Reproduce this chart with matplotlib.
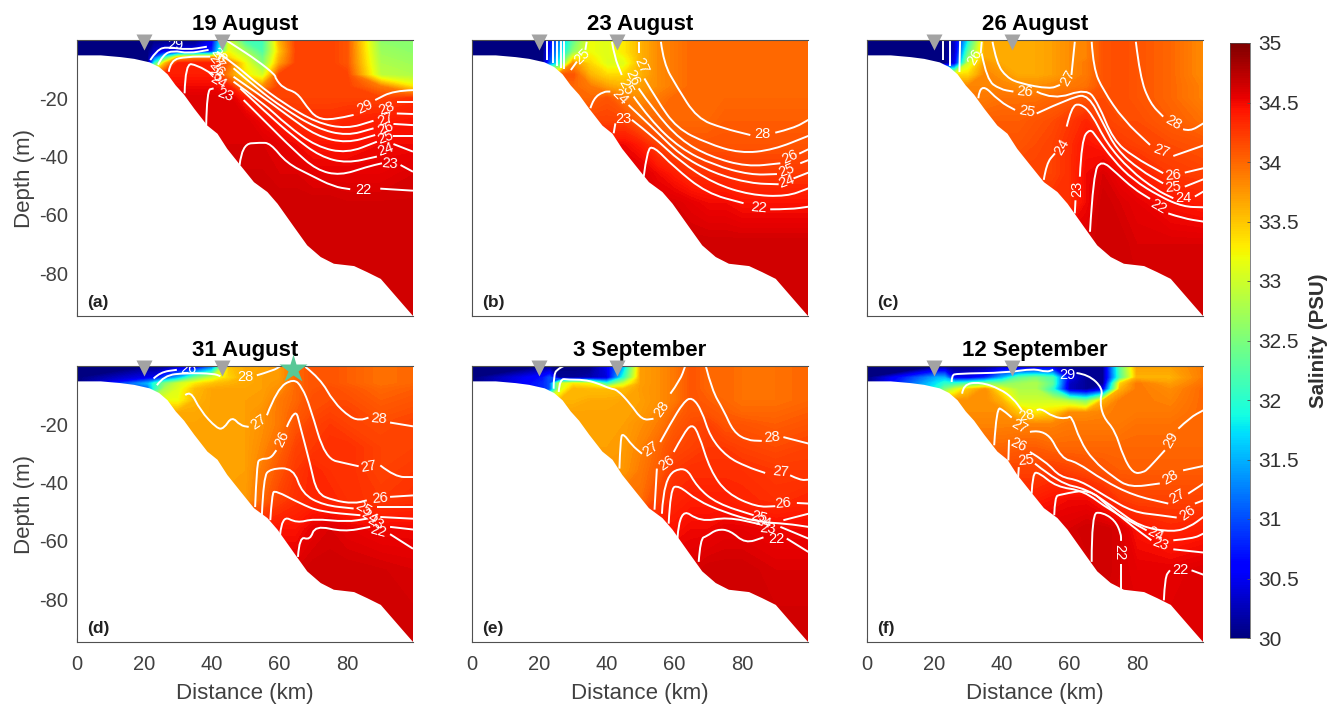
#!/usr/bin/python
import matplotlib
matplotlib.use('Agg')
import matplotlib.pyplot as plt
from matplotlib.path import Path
from matplotlib.patches import PathPatch
import numpy as np

plt.rcParams['font.family'] = ['Liberation Sans', 'DejaVu Sans']
plt.rcParams['axes.unicode_minus'] = False

###############################################################
## Section geometry
###############################################################
bottom_x = [0, 6.9, 12.8, 16.8, 21.4, 24.2, 26.7, 29.1, 31.6, 34.6, 38.5, 41.5, 44.4, 48.4, 52.3, 56.3,
            59.3, 64.2, 68.1, 72.1, 76, 82, 85.9, 89.9, 93.8, 96.8, 99.6]
bottom_d = [5.1, 5.1, 5.7, 6.3, 7.5, 9.1, 11.6, 15.4, 18.6, 23.4, 29.2, 32, 37.2, 43, 48.6, 52,
            56, 64, 70.3, 74.3, 76.6, 77.4, 79.5, 81.8, 87, 91, 94.7]

sal_x = [0, 21, 23, 26, 30, 35, 40, 45, 50, 55, 60, 65, 70, 75, 80, 90, 100]
sal_depth = [0, 4, 6, 8, 12, 16, 20, 28, 36, 46, 56, 70, 95]
stations = [20, 43]
star_x = 64

titles = ['19 August', '23 August', '26 August', '31 August', '3 September', '12 September']
letters = ['(a)', '(b)', '(c)', '(d)', '(e)', '(f)']
cbar_ticks = [30, 30.5, 31, 31.5, 32, 32.5, 33, 33.5, 34, 34.5, 35]
cbar_labels = ['30', '30.5', '31', '31.5', '32', '32.5', '33', '33.5', '34', '34.5', '35']

###############################################################
## Salinity, one row per depth
###############################################################
sal_a = [
    [30, 30, 30, 30, 30, 30, 30.5, 33, 32.1, 32.1, 33.6, 34.2, 34.2, 34.2, 34.1, 32.6, 32.6],
    [30, 30, 30.3, 30.5, 30.5, 30.5, 30.8, 33.2, 32.7, 32.2, 33.5, 34.2, 34.2, 34.2, 34.1, 32.7, 32.6],
    [30, 30, 31, 32, 33.5, 33.8, 33.8, 33.4, 33, 32.4, 33.6, 34.2, 34.2, 34.2, 34.1, 32.75, 32.65],
    [30, 30, 32, 33.5, 34.4, 34.4, 34.4, 34, 33.2, 32.5, 33.7, 34.2, 34.2, 34.2, 34.1, 32.8, 32.7],
    [34, 34, 34, 34.4, 34.4, 34.4, 34.4, 33.8, 33.3, 33, 34.2, 34.2, 34.2, 34.2, 34.2, 32.9, 32.8],
    [34.5, 34.5, 34.5, 34.5, 34.5, 34.5, 34.5, 34.4, 33.8, 33.8, 34.2, 34.2, 34.2, 34.2, 34.2, 33.9, 33.3],
    [34.6, 34.6, 34.6, 34.6, 34.6, 34.6, 34.6, 34.6, 34.4, 34.2, 34.2, 34.2, 34.2, 34.2, 34.2, 34.2, 34.3],
    [34.6, 34.6, 34.6, 34.6, 34.6, 34.6, 34.6, 34.6, 34.6, 34.5, 34.4, 34.3, 34.3, 34.3, 34.35, 34.4, 34.45],
    [34.6, 34.6, 34.6, 34.6, 34.6, 34.6, 34.6, 34.6, 34.6, 34.6, 34.55, 34.5, 34.45, 34.45, 34.45, 34.5, 34.5],
    [34.63, 34.63, 34.63, 34.63, 34.63, 34.63, 34.63, 34.63, 34.63, 34.63, 34.6, 34.6, 34.55, 34.55, 34.55, 34.55, 34.6],
    [34.65, 34.65, 34.65, 34.65, 34.65, 34.65, 34.65, 34.65, 34.65, 34.65, 34.65, 34.65, 34.65, 34.65, 34.63, 34.63, 34.63],
    [34.65, 34.65, 34.65, 34.65, 34.65, 34.65, 34.65, 34.65, 34.65, 34.65, 34.65, 34.65, 34.65, 34.65, 34.65, 34.65, 34.65],
    [34.65, 34.65, 34.65, 34.65, 34.65, 34.65, 34.65, 34.65, 34.65, 34.65, 34.65, 34.65, 34.65, 34.65, 34.65, 34.65, 34.65],
]
sal_b = [
    [30, 30, 30.5, 31.3, 32.3, 33.2, 33.1, 33.3, 33.6, 33.8, 33.9, 34, 34, 34, 34, 34, 34],
    [30, 30, 30.7, 31.5, 32.6, 33.2, 33.1, 33.3, 33.6, 33.8, 33.9, 34, 34, 34, 34, 34, 34],
    [30, 30, 30.8, 31.7, 33.2, 33.3, 33.1, 33.2, 33.6, 33.8, 33.9, 34, 34, 34, 34, 34, 34],
    [30, 30, 31, 32, 33.8, 33.4, 33.1, 33.1, 33.6, 33.8, 33.9, 34, 34, 34, 34, 34, 34],
    [34.1, 34.1, 34.1, 34.1, 34.1, 33.6, 33.4, 33.4, 33.6, 33.8, 33.9, 34, 34, 34, 34, 34, 34],
    [34, 34, 34, 34, 34, 33.9, 33.7, 33.6, 33.7, 33.8, 33.9, 34, 34, 34, 34, 34, 34],
    [34, 34, 34, 34, 34, 34, 34.1, 33.9, 33.8, 33.9, 34, 34, 34, 34, 34, 34, 34],
    [34.2, 34.2, 34.2, 34.2, 34.2, 34.2, 34.2, 34.2, 34, 34, 34, 34, 34, 34.05, 34.05, 34.05, 34.05],
    [34.5, 34.5, 34.5, 34.5, 34.5, 34.5, 34.5, 34.5, 34.4, 34.2, 34.1, 34.1, 34.1, 34.1, 34.1, 34.1, 34.1],
    [34.6, 34.6, 34.6, 34.6, 34.6, 34.6, 34.6, 34.6, 34.6, 34.5, 34.4, 34.3, 34.3, 34.3, 34.25, 34.25, 34.25],
    [34.6, 34.6, 34.6, 34.6, 34.6, 34.6, 34.6, 34.6, 34.6, 34.6, 34.6, 34.55, 34.5, 34.5, 34.45, 34.45, 34.45],
    [34.65, 34.65, 34.65, 34.65, 34.65, 34.65, 34.65, 34.65, 34.65, 34.65, 34.65, 34.65, 34.65, 34.65, 34.65, 34.65, 34.65],
    [34.65, 34.65, 34.65, 34.65, 34.65, 34.65, 34.65, 34.65, 34.65, 34.65, 34.65, 34.65, 34.65, 34.65, 34.65, 34.65, 34.65],
]
sal_c = [
    [30, 30, 30, 30.3, 31.8, 33.65, 33.65, 33.65, 33.65, 33.7, 33.8, 33.85, 34.1, 34.15, 34.1, 34, 33.8],
    [30, 30, 30, 30.3, 32.3, 33.65, 33.65, 33.65, 33.65, 33.7, 33.8, 33.85, 34.1, 34.15, 34.1, 34, 33.8],
    [30, 30, 30, 30.4, 32.6, 33.65, 33.65, 33.65, 33.65, 33.7, 33.8, 33.85, 34.1, 34.15, 34.1, 34, 33.8],
    [30, 30, 30, 30.5, 33, 33.75, 33.65, 33.65, 33.65, 33.7, 33.8, 33.9, 34.1, 34.15, 34.1, 34, 33.8],
    [33.4, 33.4, 33.4, 33.4, 33.4, 33.85, 33.75, 33.65, 33.65, 33.7, 33.8, 33.9, 34.1, 34.15, 34.1, 34, 33.8],
    [33.85, 33.85, 33.85, 33.85, 33.85, 33.85, 33.85, 33.8, 33.8, 33.85, 33.9, 33.95, 34.1, 34.15, 34.1, 34, 33.85],
    [33.9, 33.9, 33.9, 33.9, 33.9, 33.9, 33.95, 33.95, 33.95, 34, 34.05, 34.1, 34.15, 34.15, 34.1, 34, 33.85],
    [34.05, 34.05, 34.05, 34.05, 34.05, 34.05, 34.05, 34.05, 34.1, 34.15, 34.25, 34.35, 34.2, 34.15, 34.15, 34.05, 33.95],
    [34.1, 34.1, 34.1, 34.1, 34.1, 34.1, 34.1, 34.1, 34.15, 34.2, 34.3, 34.45, 34.4, 34.25, 34.2, 34.15, 34.1],
    [34.2, 34.2, 34.2, 34.2, 34.2, 34.2, 34.2, 34.2, 34.2, 34.2, 34.3, 34.5, 34.6, 34.5, 34.4, 34.25, 34.2],
    [34.3, 34.3, 34.3, 34.3, 34.3, 34.3, 34.3, 34.3, 34.3, 34.3, 34.3, 34.5, 34.65, 34.6, 34.55, 34.45, 34.4],
    [34.6, 34.6, 34.6, 34.6, 34.6, 34.6, 34.6, 34.6, 34.6, 34.6, 34.6, 34.6, 34.65, 34.65, 34.6, 34.6, 34.6],
    [34.65, 34.65, 34.65, 34.65, 34.65, 34.65, 34.65, 34.65, 34.65, 34.65, 34.65, 34.65, 34.65, 34.65, 34.65, 34.65, 34.65],
]
sal_d = [
    [30, 30, 30, 30, 30.2, 30.2, 31, 33.5, 33.65, 33.68, 33.72, 34, 34.1, 34.1, 34.05, 33.95, 34],
    [30, 30.5, 30.5, 31, 31.5, 32.5, 33, 33.4, 33.65, 33.7, 33.72, 34, 34.1, 34.1, 34.05, 33.95, 34],
    [30, 31.5, 32, 32.5, 33, 33.3, 33.5, 33.6, 33.65, 33.7, 33.75, 34, 34.1, 34.1, 34.05, 33.95, 34],
    [30, 31, 32, 32.8, 33.1, 33.55, 33.68, 33.68, 33.68, 33.7, 33.8, 34, 34.1, 34.15, 34.1, 34, 34.05],
    [33.2, 33.2, 33.2, 33.2, 33.2, 33.6, 33.68, 33.68, 33.7, 33.72, 33.9, 34, 34.15, 34.15, 34.15, 34.05, 34.1],
    [33.65, 33.65, 33.65, 33.65, 33.65, 33.65, 33.68, 33.68, 33.7, 33.78, 33.9, 34.05, 34.15, 34.2, 34.2, 34.1, 34.15],
    [33.68, 33.68, 33.68, 33.68, 33.68, 33.68, 33.68, 33.68, 33.7, 33.78, 33.9, 34.1, 34.2, 34.25, 34.2, 34.15, 34.2],
    [33.68, 33.68, 33.68, 33.68, 33.68, 33.68, 33.68, 33.68, 33.7, 33.82, 34, 34.2, 34.25, 34.3, 34.3, 34.2, 34.2],
    [33.68, 33.68, 33.68, 33.68, 33.68, 33.68, 33.68, 33.68, 33.7, 33.9, 34.1, 34.25, 34.35, 34.3, 34.3, 34.2, 34.25],
    [33.72, 33.72, 33.72, 33.72, 33.72, 33.72, 33.72, 33.72, 33.72, 34, 34.2, 34.3, 34.35, 34.35, 34.3, 34.25, 34.3],
    [34.45, 34.45, 34.45, 34.45, 34.45, 34.45, 34.45, 34.45, 34.45, 34.45, 34.45, 34.45, 34.55, 34.6, 34.55, 34.5, 34.5],
    [34.6, 34.6, 34.6, 34.6, 34.6, 34.6, 34.6, 34.6, 34.6, 34.6, 34.6, 34.6, 34.65, 34.65, 34.65, 34.63, 34.6],
    [34.65, 34.65, 34.65, 34.65, 34.65, 34.65, 34.65, 34.65, 34.65, 34.65, 34.65, 34.65, 34.65, 34.65, 34.65, 34.65, 34.65],
]
sal_e = [
    [30, 30, 30, 30, 30, 30, 30.5, 31.5, 33.7, 33.78, 33.9, 34.1, 34, 34, 33.95, 33.95, 34],
    [30, 30.7, 31, 30.1, 30.1, 30.2, 30.4, 32, 33.7, 33.78, 33.9, 34.1, 34, 34, 33.95, 33.95, 34],
    [30, 30.8, 31, 33, 33.3, 33.2, 32, 33, 33.7, 33.78, 33.9, 34.1, 34, 34, 33.95, 33.95, 34],
    [30, 30.8, 31, 33, 33.6, 33.55, 33.55, 33.55, 33.72, 33.78, 33.9, 34.1, 34, 34, 33.95, 33.95, 34],
    [33.6, 33.6, 33.6, 33.6, 33.6, 33.65, 33.65, 33.68, 33.7, 33.78, 33.9, 34.1, 34.05, 34, 33.95, 33.95, 34],
    [33.68, 33.68, 33.68, 33.68, 33.68, 33.68, 33.68, 33.68, 33.72, 33.82, 34, 34.1, 34.1, 34.05, 34, 34, 34.05],
    [33.68, 33.68, 33.68, 33.68, 33.68, 33.68, 33.68, 33.7, 33.78, 33.88, 34.05, 34.15, 34.2, 34.1, 34.1, 34.05, 34.1],
    [33.7, 33.7, 33.7, 33.7, 33.7, 33.7, 33.7, 33.72, 33.85, 34, 34.15, 34.2, 34.25, 34.25, 34.2, 34.15, 34.2],
    [33.75, 33.75, 33.75, 33.75, 33.75, 33.75, 33.75, 33.75, 33.9, 34.05, 34.25, 34.3, 34.3, 34.3, 34.3, 34.25, 34.25],
    [33.95, 33.95, 33.95, 33.95, 33.95, 33.95, 33.95, 33.95, 33.95, 34.2, 34.35, 34.4, 34.4, 34.4, 34.35, 34.3, 34.35],
    [34.45, 34.45, 34.45, 34.45, 34.45, 34.45, 34.45, 34.45, 34.45, 34.45, 34.45, 34.5, 34.5, 34.55, 34.55, 34.5, 34.5],
    [34.6, 34.6, 34.6, 34.6, 34.6, 34.6, 34.6, 34.6, 34.6, 34.6, 34.6, 34.6, 34.65, 34.65, 34.65, 34.6, 34.6],
    [34.65, 34.65, 34.65, 34.65, 34.65, 34.65, 34.65, 34.65, 34.65, 34.65, 34.65, 34.65, 34.65, 34.65, 34.65, 34.65, 34.65],
]
sal_f = [
    [30, 30, 30, 30, 30, 30, 30.2, 30.1, 30.1, 30.2, 30.1, 30.1, 30.1, 32.3, 33.7, 33.7, 33.9],
    [30, 31.5, 31.5, 30.5, 30.5, 30.8, 31.5, 32.3, 32.5, 32.2, 30.5, 30.1, 30.1, 32.2, 33.6, 33.6, 33.9],
    [30, 31.8, 32, 32, 32.2, 32.5, 32.5, 32.7, 32.8, 32.3, 30.3, 30.1, 30.1, 33.4, 33.9, 33.7, 33.95],
    [30, 32, 32.5, 33, 33.5, 33.8, 33.2, 32.8, 32.8, 32, 30.3, 30.1, 30.5, 33.6, 33.9, 33.8, 34],
    [33.8, 33.8, 33.8, 33.8, 33.8, 33.8, 33.6, 33, 33, 33, 32.8, 32.5, 33.6, 33.9, 33.9, 33.85, 34],
    [33.8, 33.8, 33.8, 33.8, 33.8, 33.8, 33.8, 33.5, 33.3, 33.4, 33.8, 33.8, 33.85, 33.9, 33.9, 33.9, 34],
    [33.85, 33.85, 33.85, 33.85, 33.85, 33.85, 33.85, 33.85, 33.85, 33.85, 33.9, 33.9, 33.9, 33.9, 33.95, 33.95, 34],
    [34, 34, 34, 34, 34, 34, 34, 34.05, 34.05, 34, 34, 34, 34, 34, 34, 34, 34],
    [34.2, 34.2, 34.2, 34.2, 34.2, 34.2, 34.2, 34.2, 34.2, 34.25, 34.2, 34.15, 34.1, 34.05, 34.05, 34.05, 34.05],
    [34.4, 34.4, 34.4, 34.4, 34.4, 34.4, 34.4, 34.4, 34.4, 34.45, 34.5, 34.5, 34.4, 34.25, 34.2, 34.2, 34.2],
    [34.6, 34.6, 34.6, 34.6, 34.6, 34.6, 34.6, 34.6, 34.6, 34.6, 34.6, 34.65, 34.65, 34.6, 34.45, 34.35, 34.4],
    [34.6, 34.6, 34.6, 34.6, 34.6, 34.6, 34.6, 34.6, 34.6, 34.6, 34.6, 34.6, 34.65, 34.6, 34.55, 34.55, 34.6],
    [34.6, 34.6, 34.6, 34.6, 34.6, 34.6, 34.6, 34.6, 34.6, 34.6, 34.6, 34.6, 34.6, 34.6, 34.6, 34.6, 34.6],
]

###############################################################
## Isotherms as (distance, depth) runs, and their labels
###############################################################
iso_a = [
    ([99.6, 93.8, 88.4], [17.2, 17.4, 20.6]),
    ([82, 76, 71.1, 68.1, 65.2, 61.2, 58.8, 58.8, 53.3, 46.4, 44.4], [25.7, 27.4, 26.9, 22.9, 18, 16.6, 13.2, 12, 6.9, 1.7, 0.2]),
    ([99.6, 94.8], [21.2, 21.2]),
    ([41.5, 46.4, 53.3, 61.2, 71, 80, 87.9], [4, 8, 14.9, 21.7, 28.4, 30.5, 27.7]),
    ([99.6, 94.8], [25.4, 25.2]),
    ([46.4, 53.3, 61.2, 71, 80, 87.9], [9.7, 16.6, 23.4, 30.3, 32.9, 30.3]),
    ([99.6, 93.8], [29.2, 28.8]),
    ([46.4, 54.3, 62.2, 71, 80, 88.4], [12.6, 18.9, 25.7, 33, 35.4, 32.6]),
    ([99.6, 93.8], [32.9, 32.9]),
    ([46.4, 55.3, 62.2, 71, 80, 88.9], [14.3, 21.7, 29.2, 36.6, 38.9, 34.9]),
    ([99.6, 93.8], [38.3, 35.7]),
    ([48.4, 56.3, 64.2, 72.1, 80, 88.9], [16.6, 25.2, 33.2, 40, 42.3, 40]),
    ([99.6, 95.9], [45.2, 42.9]),
    ([49.4, 56.3, 64.2, 71, 78, 86, 90.4], [20.6, 28.6, 37.7, 44.6, 46.5, 43.5, 42.3]),
    ([38.3, 38.5, 40.5], [29.2, 17.2, 16.6]),
    ([99.6, 89.9], [51.7, 51]),
    ([48.2, 48.9, 54.3, 57.3, 62.2, 69.1, 76, 81], [42.9, 35.7, 35.2, 35.4, 42.3, 46.3, 50.3, 51.2]),
    ([31.9, 32.1, 35.6, 40.5], [18.3, 8, 8.6, 12]),
    ([21.7, 23.7, 26.7, 32.6, 38.5], [6.9, 3.4, 2.3, 3.4, 2.3]),
    ([24, 25.5, 28.5, 33, 39], [8.5, 5, 3.6, 4.6, 3.4]),
    ([27.2, 27.7, 32.6, 39.5], [10.9, 6.9, 5.7, 5.7]),
]
lab_a = [
    ('29', 85.4, 23.1, 25), ('28', 91.7, 23.4, 20), ('27', 91.4, 27.2, 20), ('26', 91.4, 30.3, 20),
    ('25', 91.4, 33.4, 20), ('24', 91.4, 37.7, 20), ('23', 92.8, 42.3, -5), ('22', 84.9, 51.5, 0),
    ('28', 42, 5.2, -50), ('27', 41.5, 7.4, -50), ('26', 41.5, 9.7, -50), ('25', 41, 12, -45),
    ('24', 42, 14.3, -30), ('23', 44, 18.9, -20), ('29', 29.1, 1.7, 0),
]

iso_b = [
    ([22.2, 22.2], [0, 7]), ([23.9, 23.9], [0, 8]), ([25.2, 25.2], [0, 9]), ([26.4, 26.4], [0, 9.5]), ([27.4, 27.4], [0, 10]),
    ([34, 33.6], [0.6, 3.4]), ([31.1, 29.3], [7.4, 10.3]),
    ([41.5, 42.2, 44.4], [0.6, 5.7, 12]),
    ([49.6, 49.6], [0.6, 4.6]),
    ([51.1, 54.8, 60.7, 69.6, 79.5, 89.3, 99.7], [13.2, 20.6, 30.3, 35.4, 38.9, 37.7, 32.9]),
    ([56, 56.8, 60.7, 66.7, 74.5, 82.5], [0.6, 8, 16, 26.9, 30.3, 32.6]),
    ([89.9, 95.3, 99.7], [31.8, 30.3, 27.4]),
    ([49.4, 53.8, 61.7, 70.6, 81.5, 91.4], [16.6, 24, 34.3, 40, 43.5, 42.3]),
    ([97, 99.7], [39, 37.5]),
    ([47.9, 52.8, 61.7, 71.6, 82.5, 90.4], [19.4, 27.4, 37.2, 42.9, 46.3, 46]),
    ([97.3, 99.7], [42.3, 41.2]),
    ([46.4, 53.8, 61.7, 71.6, 82.5, 90.9], [22.3, 30.3, 39.5, 45.7, 49.2, 49.5]),
    ([95.3, 99.7], [47.5, 45.5]),
    ([42, 42.5], [32, 28.6]),
    ([47.4, 53.8, 61.7, 71.6, 82.5, 93.3, 99.7], [27.4, 33.2, 41.7, 49.2, 53.2, 53.7, 50.9]),
    ([50.9, 51.9, 53.8, 59.8, 69.6, 80.5], [46.9, 37.7, 36.4, 43.5, 52.6, 56]),
    ([88.4, 94.3, 99.7], [58.1, 58.1, 57.2]),
    ([35.1, 36, 39, 41], [23.4, 20, 17.7, 17.7]),
]
lab_b = [
    ('25', 32.6, 5.7, 45), ('27', 50.1, 8.9, -65), ('26', 47.4, 12.8, -65), ('25', 45.7, 16.2, -60),
    ('24', 43.8, 19.4, -45), ('23', 45, 27.2, 0), ('28', 86.2, 32.4, 0), ('26', 94.3, 40, 25),
    ('25', 93.3, 44.6, 20), ('24', 93.3, 48.6, 20), ('22', 85.1, 57.5, -5),
]

iso_c = [
    ([22.6, 22.6], [0, 7]), ([24.6, 24.6], [0, 9]), ([27.6, 27.4], [0, 11]),
    ([34, 33.7], [0.6, 4.6]),
    ([37.2, 38.4, 41.4, 45.3, 54.2, 57.2], [0.6, 8, 12.8, 14.9, 16.8, 15.4]),
    ([60.6, 61.6], [12, 0.6]),
    ([34, 35.5, 39.4, 43.4], [4.6, 13.7, 16.9, 17.7]),
    ([50.3, 55.2, 65.1, 68.5, 73, 78.9, 87.8], [17.7, 20.6, 16.6, 21.7, 34.3, 40, 45.7]),
    ([94.2, 99.7], [45.5, 44]),
    ([33, 33.5, 39.4, 43.9], [20, 14.3, 21.2, 24]),
    ([50.3, 61.1, 65.6, 70, 74, 80.9, 87.8], [25.2, 19.4, 18.9, 28.6, 37.7, 44.6, 49.2]),
    ([94.2, 99.7], [50.3, 47.8]),
    ([52.4, 53.2, 55.7], [48, 42.3, 38.9]),
    ([59.2, 60.6, 63.1, 66.6, 71, 77.9, 85.8, 90.8], [29.7, 22.9, 21.7, 25.2, 35.4, 44.6, 51.5, 54.3]),
    ([97.2, 99.7], [53.7, 52]),
    ([61.6, 61.8], [59.5, 55]),
    ([63.1, 63.6, 66.1, 68, 73, 78.9, 86.8, 93.7, 99.7], [46.9, 34.3, 30.3, 33.2, 41.2, 48, 53.7, 57.2, 57.4]),
    ([66.1, 67.1, 69.5, 74, 78.9, 83.9], [65.8, 45.7, 41.2, 45.7, 50.9, 54.5]),
    ([89.3, 93.7, 99.7], [59.5, 61.2, 62.3]),
    ([66.6, 67.1, 70, 76, 83.9], [0.6, 9.7, 17.2, 27.4, 36]),
    ([90.8, 99.7], [39.8, 36.2]),
    ([79.7, 80.9, 83.9, 87.8], [0.6, 12.6, 21.7, 26.3]),
    ([93.7, 95.7, 99.7], [30.6, 31.4, 28.6]),
]
lab_c = [
    ('26', 32, 5.7, 60), ('27', 59.4, 12.9, 60), ('26', 46.8, 17.7, -5), ('25', 47.3, 24.6, -10),
    ('24', 57.7, 36.6, 60), ('23', 62.3, 51.2, 90), ('28', 90.8, 28.4, -30), ('27', 87.3, 38, -20),
    ('26', 90.8, 46.3, 5), ('25', 90.8, 50.7, 5), ('24', 93.7, 54.3, 0), ('22', 86.3, 57, -30),
]

iso_d = [
    ([22.7, 24.7, 29.6], [4.3, 2.1, 1.3]),
    ([23.7, 25.7, 32.6, 40.5, 42.5], [6.6, 3.2, 2.4, 2.6, 3.5]),
    ([53.3, 58.3, 60.2], [3.2, 1.5, 0.1]),
    ([67.7, 72.1, 76, 81, 84, 86.4], [0.3, 4.3, 12.3, 17.7, 18.6, 17.7]),
    ([92.8, 99.6], [19.4, 20.7]),
    ([32.1, 33.6, 36.5, 41.5, 43.5, 45.9, 48.4, 50.9], [10, 8.3, 15.2, 21.5, 21.5, 17.3, 20.4, 20.9]),
    ([56.3, 59.3, 64.2, 66.7, 69.1, 73.6, 80, 83.5], [16.9, 7.8, 4.3, 7.2, 14, 31.8, 33.5, 34.4]),
    ([89.9, 94.3, 99.6], [34.1, 38.1, 38.1]),
    ([52.8, 53.3, 54.3, 57.3, 59.1], [48.4, 33.5, 31.8, 31.8, 28.9]),
    ([62.2, 64.7, 66.2, 69.1, 71.1, 76, 82, 85.9], [20.9, 14, 20.9, 33.5, 43.8, 46.1, 47.2, 46.1]),
    ([92.8, 99.6], [44.9, 44.4]),
    ([54.8, 55.3, 57.3, 64.2, 66.7, 73.1, 82], [51.2, 38.1, 35.2, 35, 43.8, 47.8, 48.9]),
    ([88.9, 99.6], [48.4, 48.4]),
    ([57.3, 57.8, 58.8, 66.2, 72.1, 84], [52.9, 43.8, 42.7, 47.2, 50, 51.2]),
    ([89.9, 99.6], [51.8, 52.4]),
    ([60.2, 60.7, 65.2, 70.1, 80, 85.9], [58, 51.2, 53.9, 52.4, 53.5, 52.4]),
    ([92.8, 99.6], [55.2, 56.1]),
    ([65.5, 65.9, 69.1, 70.6, 79, 86.9], [65.5, 58.4, 59.8, 54.7, 56.9, 55.2]),
    ([92.8, 99.6], [57.7, 62.7]),
]
lab_d = [
    ('28', 49.9, 3.8, 0), ('27', 53.8, 19.2, 35), ('26', 60.7, 24.9, 65), ('28', 89.4, 18.1, -5),
    ('27', 86.4, 34.6, 10), ('26', 89.9, 45.3, 5), ('25', 84.9, 48.9, -30), ('24', 86.7, 51.6, -30),
    ('23', 88.4, 53.9, -30), ('22', 89.4, 56.7, -15), ('26', 33.1, 0.9, 0),
]

iso_e = [
    ([24.2, 24.2, 25.7, 27.2], [7.8, 2.6, 0.9, 0]),
    ([25.7, 26, 28.6, 33.1, 37, 41, 43, 46.9, 50.4, 53.8], [8.9, 4.3, 4.7, 4.7, 5.8, 7.8, 8.1, 12.9, 18.6, 18.1]),
    ([58.8, 61.7, 63.2], [9.5, 4.9, 0]),
    ([69.3, 71.1, 74.6, 77.5, 81.5, 85.9], [0, 8.3, 15.2, 22.6, 25.5, 25.7]),
    ([92.3, 99.7], [24.4, 26.6]),
    ([43.7, 44, 44.9, 47.4, 50.4], [35.2, 24.4, 23.2, 27.2, 30.1]),
    ([55.8, 58.8, 62.7, 65.2, 68.1, 70.6, 75.6, 81.5, 86.9], [26.1, 19.8, 12.4, 10.6, 15.2, 24.4, 31.2, 34.6, 36.7]),
    ([94.3, 97.3, 99.7], [37.5, 39.2, 39]),
    ([54.1, 54.8], [49.3, 35.2]),
    ([59.8, 62.7, 65.2, 67.2, 70.6, 75.6, 84.4, 89.9], [29.5, 23.2, 19.8, 23.2, 35.8, 43.8, 48.4, 48.1]),
    ([96.3, 99.7], [47, 47.2]),
    ([56.3, 56.8, 63.2, 66.7, 72.6, 83.5], [50.7, 38.1, 34.1, 41.5, 47.2, 51.2]),
    ([92.3, 99.7], [52.9, 50.7]),
    ([58.3, 58.8, 61.2, 66.7, 74.6, 84.4, 93.3, 99.7], [54.1, 42.1, 40.9, 46.1, 50.1, 53.5, 54.1, 55.2]),
    ([60.9, 61.5, 67.7, 75.6, 85.4], [59.2, 48.4, 53.5, 51.8, 54.3]),
    ([91.4, 99.7], [55.2, 59.2]),
    ([67.2, 67.7, 69.6, 72.6, 76.5, 81, 86.4], [67.2, 59.2, 58.4, 56, 56.4, 60.9, 58.8]),
    ([93.3, 99.7], [59.2, 63.8]),
]
lab_e = [
    ('28', 56.3, 14.6, 55), ('27', 52.8, 28.4, 35), ('26', 57.8, 33.2, 35), ('28', 88.9, 24.6, 5),
    ('27', 91.4, 36.4, -5), ('26', 92.3, 47.2, 5), ('25', 85.2, 51.8, -15), ('24', 86.4, 53.7, -15),
    ('23', 87.7, 56, -5), ('22', 90.1, 59.5, 0),
]

iso_f = [
    ([25.1, 25.1, 26.6, 41.4, 49.3, 53.2, 55.2], [5.5, 3.2, 2.6, 2.3, 0.9, 2.1, 1.3]),
    ([62.1, 65.6, 70, 69, 70, 73.5, 76, 78.9, 81.9, 83.4, 88.3], [2.4, 2.9, 7.8, 11.8, 17.5, 22.1, 31.2, 36.9, 36.5, 35.2, 28.9]),
    ([92.3, 95.7, 99.7], [21.5, 17.7, 15.2]),
    ([28.2, 28.5, 33.5, 39.4, 43.4, 45.9], [9.5, 6.3, 5.5, 7.8, 11.2, 15.2]),
    ([50.3, 51.3, 55.2, 59.2, 60.6, 63.1, 67, 73, 77.9, 86.8], [15.2, 14.3, 17.5, 18.1, 16.9, 25.5, 32.4, 38.1, 41.7, 40.3]),
    ([93.7, 99.7], [35.8, 34.3]),
    ([37.7, 38.4, 40.4, 42.9], [27.2, 14, 15.2, 17.7]),
    ([48.3, 53.2, 57.7, 62.1, 70, 78.9, 89.3], [22.6, 21.5, 31.8, 32.9, 39.2, 44.4, 47.2]),
    ([95.2, 99.7], [43.8, 40.4]),
    ([41.9, 42.1], [32.4, 25.3]),
    ([48.3, 53.2, 57.2, 63.1, 71, 78.9, 86.8, 91.8], [29.5, 32.9, 38.1, 39.2, 44.9, 50.1, 51.2, 52]),
    ([97.2, 99.7], [47.2, 46.1]),
    ([44.8, 45], [38.1, 34.7]),
    ([49.8, 57.2, 65, 73, 80.9, 90.8, 95.7, 99.7], [33.5, 40.4, 42.1, 48.4, 55.2, 57, 55.2, 51.8]),
    ([48.8, 49.1, 50.8, 56.2, 64.1, 72, 82.9], [43.8, 36.9, 36.4, 41.5, 42.7, 49.5, 56.4]),
    ([90.8, 96.7, 99.7], [59.8, 59.2, 57.5]),
    ([55.5, 55.7, 57.2, 66.1, 71, 78.9, 84.3], [51.2, 44.9, 44.1, 42.3, 47.7, 55.2, 59.8]),
    ([90.8, 99.7], [62.9, 64]),
    ([66.6, 66.6, 69.5, 73.5, 75.3, 75.3], [67.2, 50.7, 50.1, 52.9, 57.5, 60]),
    ([75.3, 75.3], [67.8, 76.4]),
    ([88, 88.3, 89.8], [80.4, 72.4, 70.1]),
    ([96.2, 99.7], [70.1, 71.6]),
]
lab_f = [
    ('29', 59.5, 3.2, 0), ('28', 47.3, 16.9, 10), ('27', 45, 20.7, -30), ('26', 44.8, 27.2, -25),
    ('25', 47, 32.4, 5), ('24', 85.6, 57.7, -25), ('23', 86.8, 61.2, -20), ('22', 74.8, 63.8, -90),
    ('29', 90, 25.5, 60), ('28', 89.8, 38.1, 30), ('27', 91.9, 44.9, 30), ('26', 94.9, 50.3, 35),
    ('22', 92.9, 69.9, 0),
]

all_sal = [sal_a, sal_b, sal_c, sal_d, sal_e, sal_f]
all_iso = [iso_a, iso_b, iso_c, iso_d, iso_e, iso_f]
all_lab = [lab_a, lab_b, lab_c, lab_d, lab_e, lab_f]


def rounded_path(xs, ys):
    # corners become quadratic curves, so the runs do not look faceted
    pts = list(zip(xs, ys))
    verts = [pts[0]]
    codes = [Path.MOVETO]
    for k in range(1, len(pts)-1):
        mid = ((pts[k][0]+pts[k+1][0])/2.0, (pts[k][1]+pts[k+1][1])/2.0)
        verts += [pts[k], mid]
        codes += [Path.CURVE3, Path.CURVE3]
    verts.append(pts[-1])
    codes.append(Path.LINETO)
    return Path(verts, codes)


###############################################################
## Figure, laid out in pixels
###############################################################
W, H = 1329.0, 705.0
left_px = [77, 472, 867]
top_px = [40, 366]
ax_w, ax_h = 336.0, 276.0
grey = '#505050'

fig = plt.figure(figsize=(W/100, H/100), dpi=100)
levels = np.linspace(30, 35, 201)

for i in range(6):
    col = i % 3
    row = i // 3
    ax = fig.add_axes([left_px[col]/W, 1-(top_px[row]+ax_h)/H, ax_w/W, ax_h/H])

    ax.contourf(sal_x, -np.array(sal_depth), np.array(all_sal[i]), levels=levels, cmap='jet', extend='both')
    ax.fill_between(bottom_x, -np.array(bottom_d), -100, color='white', lw=0, zorder=2)

    for xs, ds in all_iso[i]:
        ax.add_patch(PathPatch(rounded_path(xs, -np.array(ds)), fc='none', ec='white', lw=1.4, zorder=3))
    for txt, x, d, rot in all_lab[i]:
        ax.text(x, -d, txt, color='white', fontsize=10.5, rotation=rot, ha='center', va='center',
                rotation_mode='anchor', zorder=4)

    ax.plot(stations, [-0.7, -0.7], 'v', color='#a3a3a3', ms=11.5, mec='none', clip_on=False, zorder=6)
    if i == 3:
        ax.plot([star_x], [-1], '*', color='#58c896', ms=21.5, mec='none', clip_on=False, zorder=7)

    ax.text(3, -90, letters[i], fontsize=12.5, fontweight='bold', color='#222222', va='center', zorder=5)
    ax.set_title(titles[i], fontsize=16, fontweight='bold', pad=7, color='black')

    ax.set_xlim(0, 99.6)
    ax.set_ylim(-94.7, 0)
    ax.set_xticks([0, 20, 40, 60, 80])
    ax.set_yticks([-80, -60, -40, -20])
    ax.tick_params(direction='in', length=3, width=0.8, color=grey, labelcolor='#404040', labelsize=14.5)
    ax.tick_params(axis='x', pad=9.5)
    ax.tick_params(axis='y', pad=6.5)
    if row == 1:
        ax.set_xlabel('Distance (km)', fontsize=16, color='#404040')
        ax.xaxis.set_label_coords(0.5, -0.1486)
    else:
        ax.set_xticklabels([])
    if col == 0:
        ax.set_ylabel('Depth (m)', fontsize=16, color='#404040')
        ax.yaxis.set_label_coords(-0.125, 0.5)
    else:
        ax.set_yticklabels([])
    for s in ax.spines.values():
        s.set_color(grey)
        s.set_linewidth(0.8)
        s.set_zorder(5)
    ax.spines['right'].set_visible(False)

# colour bar
cax = fig.add_axes([1230/W, 1-638/H, 20/W, 595/H])
sm = plt.cm.ScalarMappable(norm=plt.Normalize(30, 35), cmap='jet')
cb = fig.colorbar(sm, cax=cax, ticks=cbar_ticks)
cb.ax.set_yticklabels(cbar_labels)
cb.ax.tick_params(direction='in', length=2, width=0.6, color=grey, labelcolor='#303030', labelsize=15, pad=6)
cb.outline.set_linewidth(0.5)
cb.outline.set_edgecolor(grey)
cb.set_label('Salinity (PSU)', fontsize=14.8, fontweight='bold', color='#303030', labelpad=7.5)

plt.savefig('out.png', dpi=100)
